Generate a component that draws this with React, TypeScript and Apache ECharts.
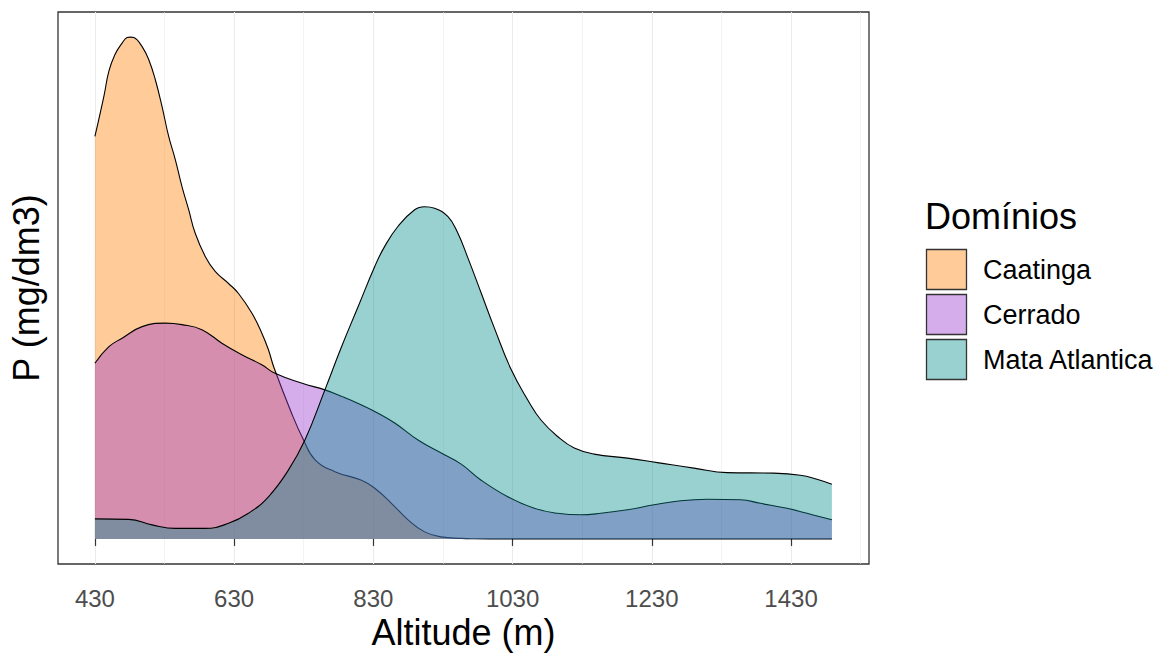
import React, { useEffect, useRef } from "react";
import * as echarts from "echarts";

// x-axis ticks and grid positions (Altitude, m)
const xTicks = [430, 630, 830, 1030, 1230, 1430];
const minorGrid = [530, 730, 930, 1130, 1330, 1530];

const groups = ["Caatinga", "Cerrado", "Mata Atlantica"];
const fills = ["#FF7F00", "#9932CC", "#008B8B"];
const legendFills = ["rgba(255,127,0,0.4)", "rgba(153,50,204,0.4)", "rgba(0,139,139,0.4)"];

// density curves: [altitude, relative density]
const caatinga = [
  [430, 80.2], [442.9, 88.2], [450.1, 93.2], [458.7, 96.5], [469.1, 98.8], [476.3, 99.9],
  [481, 100], [485.9, 99.9], [497.8, 98.1], [507.4, 95.5], [516.8, 91.5], [526.4, 86.2],
  [536.0, 80.2], [545.5, 75.6], [555.1, 70.2], [564.7, 65.6], [574.1, 60.9], [588.5, 56.3],
  [602.8, 53.3], [622.0, 50.9], [636.3, 48.9], [655.4, 45.0], [669.8, 41.0], [679.3, 37.7],
  [687.3, 34.1], [712.7, 25.0], [729.4, 19.8], [746.0, 15.8], [774.7, 13.4], [813.0, 11.7],
  [832.0, 10.1], [855.9, 7.1], [879.9, 3.8], [903.6, 1.4], [927.6, 0.4], [956.2, 0.1],
  [975, 0.02], [996.3, 0], [1488.7, 0],
];

const cerrado = [
  [430, 35.0], [450.1, 38.3], [469.1, 40.0], [497.8, 42.3], [531.1, 43.0], [555.1, 42.7],
  [583.7, 41.7], [612.4, 39.0], [641.0, 36.7], [669.8, 34.7], [688.7, 33.0], [727.8, 31.0],
  [760.4, 29.7], [784.5, 28.4], [813.0, 26.7], [832.0, 25.4], [860.7, 23.1], [894.2, 19.7],
  [927.6, 17.1], [956.2, 14.9], [984.9, 11.7], [1023.1, 8.4], [1061.2, 6.1], [1094.8, 5.1],
  [1128.2, 4.8], [1156.8, 5.1], [1195.0, 5.8], [1233.2, 6.8], [1271.3, 7.6], [1309.7, 7.9],
  [1357.4, 7.8], [1386.0, 7.1], [1424.3, 6.1], [1452.9, 5.1], [1488.7, 3.8],
];

const mataAtlantica = [
  [430, 4.0], [478.7, 3.9], [512.1, 2.8], [545.5, 2.1], [588.5, 2.1], [622.0, 3.1],
  [650.6, 5.1], [679.3, 8.4], [707.9, 13.7], [731.7, 19.7], [760.4, 29.7], [784.3, 38.3],
  [808.2, 46.3], [832.0, 54.3], [846.3, 58.3], [865.5, 62.3], [889.3, 65.6], [903.6, 66.2],
  [918.0, 65.9], [937.2, 64.2], [950.5, 61.2], [965.8, 56.0], [984.9, 49.0], [1003.9, 42.0],
  [1027.8, 33.8], [1051.8, 27.7], [1070.8, 23.7], [1094.8, 20.4], [1118.6, 18.1],
  [1147.2, 16.9], [1195.0, 16.1], [1238.0, 15.2], [1290.5, 14.1], [1338.3, 13.2],
  [1405.1, 13.1], [1443.3, 12.7], [1467.2, 11.9], [1488.7, 10.9],
];

const FONT = "'Liberation Sans', Arial, Helvetica, sans-serif";

export default function App() {
  const ref = useRef<HTMLDivElement>(null);

  useEffect(() => {
    document.body.style.margin = "0";
    const chart = echarts.init(ref.current!, null, { renderer: "svg" });
    const seriesData = [caatinga, cerrado, mataAtlantica];

    const gridLineData = [
      ...xTicks.map((v) => ({ xAxis: v, lineStyle: { color: "#EBEBEB", width: 1.1, type: "solid" } })),
      ...minorGrid.map((v) => ({ xAxis: v, lineStyle: { color: "#EBEBEB", width: 0.6, type: "solid" } })),
    ];

    const legendGraphics: any[] = [
      {
        type: "text",
        x: 925,
        y: 216,
        style: { text: "Domínios", fontSize: 36, fontFamily: FONT, fill: "#000", verticalAlign: "middle" },
      },
    ];
    groups.forEach((g, i) => {
      const top = 249 + i * 45;
      legendGraphics.push({
        type: "rect",
        shape: { x: 926.5, y: top + 0.5, width: 40, height: 40 },
        style: { fill: legendFills[i], stroke: "#333333", lineWidth: 1.3 },
      });
      legendGraphics.push({
        type: "text",
        x: 983,
        y: top + 21,
        style: { text: g, fontSize: 27, fontFamily: FONT, fill: "#000", verticalAlign: "middle" },
      });
    });

    const option: any = {
      animation: false,
      backgroundColor: "#ffffff",
      textStyle: { fontFamily: FONT },
      grid: {
        left: 55,
        right: 294,
        top: 12,
        bottom: 92,
        show: true,
        borderColor: "#333333",
        borderWidth: 1.3,
        backgroundColor: "transparent",
      },
      xAxis: {
        type: "value",
        min: 377,
        max: 1542,
        axisLine: { show: false },
        axisTick: { show: true, customValues: xTicks, length: 7, lineStyle: { color: "#333333", width: 1.2 } },
        axisLabel: {
          customValues: xTicks,
          fontSize: 24,
          color: "#4D4D4D",
          margin: 22,
          fontFamily: FONT,
          formatter: (v: number) => String(Math.round(v)),
        },
        splitLine: { show: false },
        name: "Altitude (m)",
        nameLocation: "middle",
        nameGap: 50,
        nameTextStyle: { fontSize: 36, color: "#000", fontFamily: FONT },
      },
      yAxis: {
        type: "value",
        min: -5,
        max: 105,
        axisLine: { show: false },
        axisTick: { show: false },
        axisLabel: { show: false },
        splitLine: { show: false },
        name: "P (mg/dm3)",
        nameLocation: "middle",
        nameGap: 14,
        nameTextStyle: { fontSize: 36, color: "#000", fontFamily: FONT },
      },
      graphic: legendGraphics,
      series: [
        {
          type: "line",
          name: "grid",
          data: [[430, 0]],
          symbol: "none",
          silent: true,
          z: 0,
          lineStyle: { width: 0, opacity: 0 },
          markLine: {
            silent: true,
            z: 0,
            symbol: "none",
            label: { show: false },
            animation: false,
            data: gridLineData,
          },
        },
        ...groups.map((name, i) => ({
          type: "line",
          name,
          data: seriesData[i],
          smooth: 0.45,
          symbol: "none",
          silent: true,
          z: 2 + i,
          lineStyle: { color: "#000000", width: 1.1 },
          areaStyle: { color: fills[i], opacity: 0.4 },
        })),
      ],
    };

    chart.setOption(option);
    return () => chart.dispose();
  }, []);

  return (
    <div
      ref={ref}
      style={{ position: "fixed", left: 0, top: 0, width: 1163, height: 656, background: "#fff" }}
    />
  );
}
